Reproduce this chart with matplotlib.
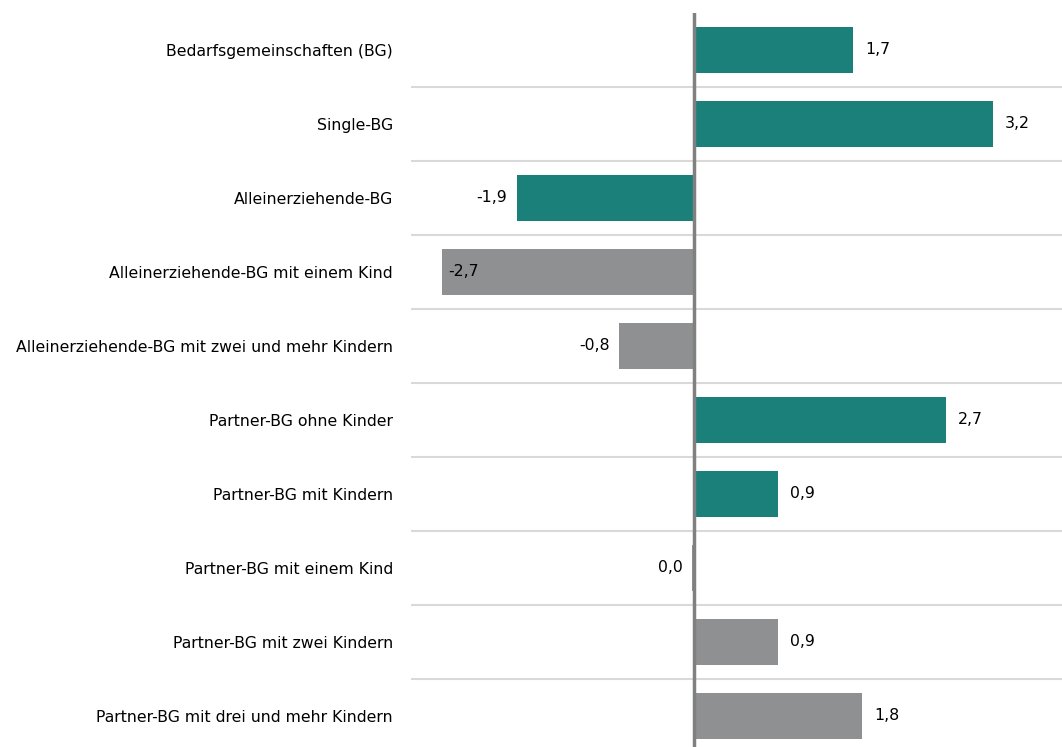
import matplotlib.pyplot as plt
import numpy as np

categories = [
    "Bedarfsgemeinschaften (BG)",
    "Single-BG",
    "Alleinerziehende-BG",
    "Alleinerziehende-BG mit einem Kind",
    "Alleinerziehende-BG mit zwei und mehr Kindern",
    "Partner-BG ohne Kinder",
    "Partner-BG mit Kindern",
    "Partner-BG mit einem Kind",
    "Partner-BG mit zwei Kindern",
    "Partner-BG mit drei und mehr Kindern",
]
values = [1.7, 3.2, -1.9, -2.7, -0.8, 2.7, 0.9, -0.02, 0.9, 1.8]
groups = ["main", "main", "main", "sub", "sub", "main", "main", "sub", "sub", "sub"]

TEAL = "#1a8079"
GREY = "#8f9091"
colors = [TEAL if g == "main" else GREY for g in groups]

plt.rcParams['font.family'] = ['DejaVu Sans']

fig = plt.figure(figsize=(10.62, 7.47), dpi=100)
ax = fig.add_axes([411 / 1062, -6 / 747, 651 / 1062, 740 / 747])

y = np.arange(len(categories))
ax.barh(y, values, height=0.62, color=colors, zorder=2)

ax.set_xlim(-3.03, 3.94)
ax.set_ylim(len(categories) - 0.5, -0.5)

# horizontal separators between categories
for b in np.arange(0.5, len(categories) - 0.5, 1):
    ax.axhline(b, color="#d9d9d9", lw=1.5, zorder=1)
ax.axvline(0, color="#808080", lw=2.5, zorder=3)

xmin = ax.get_xlim()[0]
for yi, v in zip(y, values):
    txt = f"{abs(v):.1f}".replace(".", ",")
    if round(v, 1) < 0:
        txt = "-" + txt
    if v >= 0:
        ax.text(v + 0.13, yi, txt, va="center", ha="left", fontsize=11.3, zorder=4)
    elif v - 0.6 < xmin:
        # no room left of the bar -> put label inside at the bar end
        ax.text(v + 0.07, yi, txt, va="center", ha="left", fontsize=11.3, zorder=4)
    else:
        ax.text(v - 0.1, yi, txt, va="center", ha="right", fontsize=11.3, zorder=4)

ax.set_yticks(y)
ax.set_yticklabels(categories, fontsize=11.3)
ax.tick_params(axis="y", length=0, pad=13)
ax.set_xticks([])
for s in ax.spines.values():
    s.set_visible(False)

fig.savefig("out.png", dpi=100)
